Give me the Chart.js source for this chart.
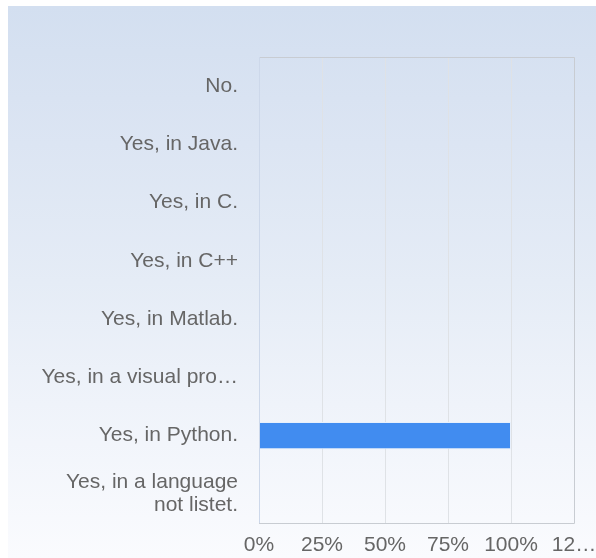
<!DOCTYPE html>
<html>
<head>
<meta charset="utf-8">
<script src="https://cdn.jsdelivr.net/npm/chart.js@4/dist/chart.umd.min.js"></script>
<style>
  body { margin: 0; background: #fff; }
  #wrap {
    position: absolute; left: 8px; top: 6px; width: 588px; height: 552px;
    background: linear-gradient(to bottom, #d3dff0 0%, #dce5f3 25%, #e5ecf6 50%, #eff3fa 72%, #fafbfe 100%);
  }
</style>
</head>
<body>
<div id="wrap"><canvas id="chart" width="588" height="552"></canvas></div>
<script>
const categories = [
  'No.',
  'Yes, in Java.',
  'Yes, in C.',
  'Yes, in C++',
  'Yes, in Matlab.',
  'Yes, in a visual pro\u2026',
  'Yes, in Python.',
  ['Yes, in a language', 'not listet.']
];
const percentages = [0, 0, 0, 0, 0, 0, 100, 0];
const xTickLabels = ['0%', '25%', '50%', '75%', '100%', '12\u2026'];

// box round the plot area
const frame = {
  id: 'frame',
  afterDraw(chart) {
    const { ctx, chartArea: a } = chart;
    ctx.save();
    ctx.lineWidth = 1;
    ctx.strokeStyle = '#c8ccd2';
    ctx.beginPath();
    ctx.moveTo(a.left, a.top + 0.5);
    ctx.lineTo(a.right + 0.5, a.top + 0.5);
    ctx.lineTo(a.right + 0.5, a.bottom + 0.5);
    ctx.lineTo(a.left, a.bottom + 0.5);
    ctx.stroke();
    ctx.strokeStyle = '#cdd8ea';
    ctx.beginPath();
    ctx.moveTo(a.left + 0.5, a.top);
    ctx.lineTo(a.left + 0.5, a.bottom);
    ctx.stroke();
    ctx.restore();
  }
};

new Chart(document.getElementById('chart'), {
  type: 'bar',
  data: {
    labels: categories,
    datasets: [{
      data: percentages,
      backgroundColor: '#418cf0',
      borderColor: '#e8f0fc',
      borderWidth: 1,
      barPercentage: 0.47,
      categoryPercentage: 1
    }]
  },
  options: {
    indexAxis: 'y',
    responsive: false,
    animation: false,
    layout: { padding: { top: 51, right: 22, bottom: 0, left: 0 } },
    plugins: { legend: { display: false }, tooltip: { enabled: false } },
    scales: {
      x: {
        min: 0,
        max: 125,
        ticks: {
          stepSize: 25,
          maxRotation: 0,
          autoSkip: false,
          color: '#666',
          font: { family: 'Liberation Sans, Arial', size: 21 },
          padding: 10,
          callback: (v, i) => xTickLabels[i]
        },
        grid: { color: '#dfe2e6', drawTicks: false },
        border: { display: false },
        afterFit(s) {
          s.height = 35;
          s.paddingLeft = 0;
          s.paddingRight = 0;
        }
      },
      y: {
        ticks: {
          color: '#666',
          font: { family: 'Liberation Sans, Arial', size: 21, lineHeight: 1.1 },
          padding: 21
        },
        grid: { display: false, drawTicks: false },
        border: { display: false },
        afterFit(s) { s.width = 251; }
      }
    }
  },
  plugins: [frame]
});
</script>
</body>
</html>
